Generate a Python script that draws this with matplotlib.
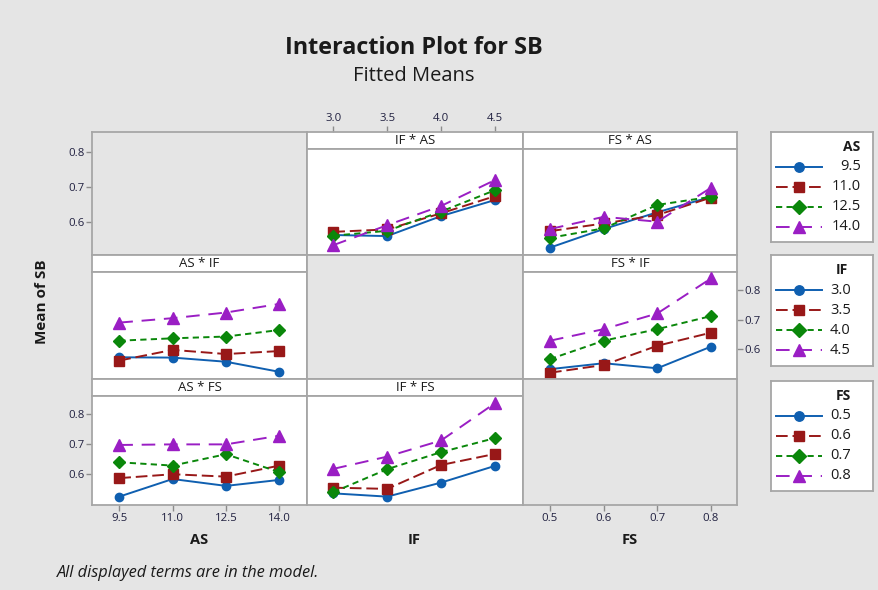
import matplotlib
matplotlib.use('Agg')
import matplotlib.pyplot as plt

plt.rcParams['font.family'] = ['Open Sans', 'Noto Sans', 'DejaVu Sans']

# ---------------- data ----------------
AS_levels = [9.5, 11.0, 12.5, 14.0]
IF_levels = [3.0, 3.5, 4.0, 4.5]
FS_levels = [0.5, 0.6, 0.7, 0.8]
AS_labels = ['9.5', '11.0', '12.5', '14.0']
IF_labels = ['3.0', '3.5', '4.0', '4.5']
FS_labels = ['0.5', '0.6', '0.7', '0.8']
y_ticks = [0.6, 0.7, 0.8]
y_ticklabels = ['0.6', '0.7', '0.8']

# IF * AS : x = IF, one line per AS level
if_as = [[0.562, 0.559, 0.616, 0.662],
         [0.571, 0.578, 0.624, 0.673],
         [0.560, 0.574, 0.629, 0.690],
         [0.533, 0.590, 0.645, 0.719]]
# FS * AS : x = FS, one line per AS level
fs_as = [[0.526, 0.579, 0.627, 0.671],
         [0.573, 0.595, 0.619, 0.669],
         [0.554, 0.581, 0.648, 0.671],
         [0.579, 0.614, 0.600, 0.697]]
# AS * IF : x = AS, one line per IF level
as_if = [[0.573, 0.572, 0.558, 0.524],
         [0.562, 0.598, 0.584, 0.594],
         [0.629, 0.637, 0.643, 0.665],
         [0.690, 0.705, 0.724, 0.753]]
# FS * IF : x = FS, one line per IF level
fs_if = [[0.533, 0.553, 0.536, 0.609],
         [0.521, 0.547, 0.612, 0.656],
         [0.567, 0.629, 0.668, 0.712],
         [0.629, 0.668, 0.721, 0.839]]
# AS * FS : x = AS, one line per FS level
as_fs = [[0.523, 0.582, 0.559, 0.579],
         [0.585, 0.598, 0.590, 0.627],
         [0.638, 0.627, 0.665, 0.605],
         [0.696, 0.698, 0.698, 0.727]]
# IF * FS : x = IF, one line per FS level
if_fs = [[0.534, 0.523, 0.570, 0.626],
         [0.553, 0.549, 0.629, 0.666],
         [0.538, 0.615, 0.672, 0.719],
         [0.616, 0.657, 0.711, 0.836]]

factors = ['AS', 'IF', 'FS']
levels = {'AS': AS_levels, 'IF': IF_levels, 'FS': FS_levels}
level_labels = {'AS': AS_labels, 'IF': IF_labels, 'FS': FS_labels}
panel_data = {(0, 1): if_as, (0, 2): fs_as, (1, 0): as_if,
              (1, 2): fs_if, (2, 0): as_fs, (2, 1): if_fs}

# ---------------- style ----------------
BLUE = '#0F5FB0'
RED = '#981818'
GREEN = '#0A870A'
PURPLE = '#9A1EC4'
GRID_GREY = '#A6A6A6'
BG = '#E5E5E5'
TICK_TXT = '#202040'
TXT = '#1a1a1a'
styles = [dict(color=BLUE, ls='-', marker='o', ms=6.0),
          dict(color=RED, ls=(0, (6, 2.5)), marker='s', ms=6.5),
          dict(color=GREEN, ls=(0, (3.2, 2.2)), marker='D', ms=6.0),
          dict(color=PURPLE, ls=(0, (7, 4.5)), marker='^', ms=8.0)]
LW = 1.4

W, H = 879, 590
fig = plt.figure(figsize=(W / 100, H / 100), dpi=100, facecolor=BG)


def px_axes(x0, y0, x1, y1):
    return fig.add_axes([x0 / W, 1 - y1 / H, (x1 - x0) / W, (y1 - y0) / H])


def frame(ax, face):
    ax.set_facecolor(face)
    for s in ax.spines.values():
        s.set_color(GRID_GREY)
        s.set_linewidth(1.3)
    ax.tick_params(length=4, width=1, color='#8C8C8C', labelsize=8.2,
                   labelcolor=TICK_TXT, pad=1.5)
    ax.set_xticks([])
    ax.set_yticks([])


xs = [92, 307, 523, 737]
ys = [132, 255, 379, 505]
STRIP = 17
xlims = {'AS': (8.732, 14.78), 'IF': (2.756, 4.760), 'FS': (0.4497, 0.8484)}
ylims_plot = [(0.5049, 0.8077), (0.4998, 0.8607), (0.495, 0.860)]

for r in range(3):
    for c in range(3):
        x0, x1 = xs[c], xs[c + 1]
        y0, y1 = ys[r], ys[r + 1]
        xv, lv = factors[c], factors[r]
        if r == c:
            ax = px_axes(x0, y0, x1, y1)
            frame(ax, BG)
            ax.set_xlim(*xlims[xv])
            lo, hi = ylims_plot[r]
            top_ext = hi + (hi - lo) * STRIP / (y1 - y0 - STRIP)
            ax.set_ylim(lo, top_ext)
            if r == 0:
                ax.set_yticks(y_ticks)
                ax.set_yticklabels(y_ticklabels)
            if r == 2:
                ax.set_xticks(levels[xv])
                ax.set_xticklabels(level_labels[xv])
            continue
        # strip
        axs = px_axes(x0, y0, x1, y0 + STRIP)
        frame(axs, 'white')
        axs.set_xlim(*xlims[xv])
        axs.text(0.5, 0.5, f'{xv} * {lv}', transform=axs.transAxes,
                 ha='center', va='center', fontsize=9.5, color=TXT)
        if r == 0 and c == 1:
            axs.xaxis.tick_top()
            axs.set_xticks(levels[xv])
            axs.set_xticklabels(level_labels[xv])
        # plot area
        ax = px_axes(x0, y0 + STRIP, x1, y1)
        frame(ax, 'white')
        ax.set_xlim(*xlims[xv])
        ax.set_ylim(*ylims_plot[r])
        for vals, st in zip(panel_data[(r, c)], styles):
            ax.plot(levels[xv], vals, color=st['color'], ls=st['ls'], lw=LW,
                    marker=st['marker'], ms=st['ms'], mec=st['color'],
                    mfc=st['color'], clip_on=False, zorder=3)
        if r == 1 and c == 2:
            ax.yaxis.tick_right()
            ax.set_yticks(y_ticks)
            ax.set_yticklabels(y_ticklabels)
        if r == 2 and c == 0:
            ax.set_yticks(y_ticks)
            ax.set_yticklabels(y_ticklabels)
            ax.set_xticks(levels[xv])
            ax.set_xticklabels(level_labels[xv])

# ---------------- legends ----------------
leg_boxes = [(132, 242), (255, 366), (381, 491)]
for k, fac in enumerate(factors):
    t, b = leg_boxes[k]
    la = px_axes(771, t, 873, b)
    la.set_xlim(771, 873)
    la.set_ylim(b, t)
    la.set_facecolor('white')
    for s in la.spines.values():
        s.set_color(GRID_GREY)
        s.set_linewidth(1.3)
    la.set_xticks([])
    la.set_yticks([])
    title_x = 843 if fac == 'AS' else 836
    la.text(title_x, t + 15, fac, ha='left', va='center', fontsize=10,
            fontweight='bold', color=TXT)
    for i, (lab, st) in enumerate(zip(level_labels[fac], styles)):
        yy = t + 35 + 20 * i
        la.plot([776, 822], [yy, yy], color=st['color'], ls=st['ls'], lw=LW)
        la.plot([799], [yy], color=st['color'], marker=st['marker'],
                ms=st['ms'] + 0.8, ls='none')
        if fac == 'AS':
            la.text(861, yy, lab, ha='right', va='center', fontsize=10.5, color=TXT)
        else:
            la.text(830, yy, lab, ha='left', va='center', fontsize=10.5, color=TXT)

# ---------------- texts ----------------
fig.text(414 / W, 1 - 48 / H, 'Interaction Plot for SB', ha='center', va='center',
         fontsize=16.8, fontweight='bold', color=TXT)
fig.text(414 / W, 1 - 76 / H, 'Fitted Means', ha='center', va='center',
         fontsize=14.5, color=TXT)
fig.text(42 / W, 1 - 302 / H, 'Mean of SB', ha='center', va='center', rotation=90,
         fontsize=11, fontweight='bold', color=TXT)
for lab, xc in zip(factors, [199, 414, 630]):
    fig.text(xc / W, 1 - 540 / H, lab, ha='center', va='center', fontsize=10.5,
             fontweight='bold', color=TXT)
fig.text(57 / W, 1 - 573 / H, 'All displayed terms are in the model.', ha='left',
         va='center', fontsize=11.8, style='italic', color=TXT)

fig.savefig('out.png', dpi=100, facecolor=BG)
